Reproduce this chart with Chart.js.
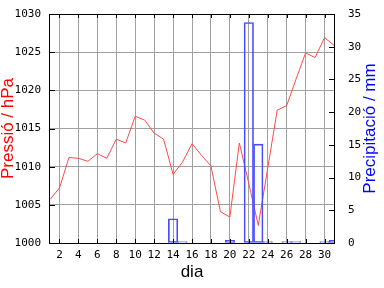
<!DOCTYPE html>
<html>
<head>
<meta charset="utf-8">
<script src="https://cdn.jsdelivr.net/npm/chart.js@4/dist/chart.umd.min.js"></script>
<style>
html,body{margin:0;padding:0;background:#fff;}
#wrap{width:384px;height:288px;}
</style>
</head>
<body>
<div id="wrap"><canvas id="c" width="384" height="288"></canvas></div>
<script>
const days = [1,2,3,4,5,6,7,8,9,10,11,12,13,14,15,16,17,18,19,20,21,22,23,24,25,26,27,28,29,30,31];
const pressure = [1005.7,1007.2,1011.2,1011.1,1010.7,1011.7,1011.1,1013.6,1013.1,1016.6,
  1016.1,1014.4,1013.6,1009.0,1010.6,1013.0,1011.5,1010.1,1004.1,1003.4,
  1013.1,1007.8,1002.3,1009.8,1017.4,1018.0,1021.5,1024.9,1024.3,1026.9,1025.9];
const precip = [null,null,null,null,null,null,null,null,null,null,
  null,null,null,3.7,0.2,null,null,null,null,0.4,
  null,33.7,15.1,0.2,null,0.2,0.2,null,null,0.2,0.4];
const xTicks = [2,4,6,8,10,12,14,16,18,20,22,24,26,28,30];
const pTicks = [1000,1005,1010,1015,1020,1025,1030];
const rTicks = [0,5,10,15,20,25,30,35];

const monoFont = {family:'"DejaVu Sans Mono", monospace', size:11};
const gridCol = '#a0a0a0';
const plain = v => String(v);

const framePlugin = {
  id:'frame',
  afterDatasetsDraw(chart){
    const ctx = chart.ctx, ca = chart.chartArea;
    const xs = chart.scales.x, ys = chart.scales.y, y1 = chart.scales.y1;
    ctx.save();
    ctx.strokeStyle = '#000';
    ctx.lineWidth = 1;
    ctx.beginPath();
    xs.ticks.forEach(t => {
      const px = Math.round(xs.getPixelForValue(t.value)) + 0.5;
      ctx.moveTo(px, ca.bottom); ctx.lineTo(px, ca.bottom - 4);
      ctx.moveTo(px, ca.top); ctx.lineTo(px, ca.top + 4);
    });
    ys.ticks.forEach(t => {
      const py = Math.round(ys.getPixelForValue(t.value)) + 0.5;
      ctx.moveTo(ca.left, py); ctx.lineTo(ca.left + 5, py);
    });
    y1.ticks.forEach(t => {
      const py = Math.round(y1.getPixelForValue(t.value)) + 0.5;
      ctx.moveTo(ca.right, py); ctx.lineTo(ca.right - 5, py);
    });
    ctx.stroke();
    ctx.strokeRect(Math.round(ca.left) - 0.5, Math.round(ca.top) + 0.5,
      Math.round(ca.right - ca.left) + 1, Math.round(ca.bottom - ca.top));
    // right axis title, reading bottom-to-top
    ctx.fillStyle = '#0000ff';
    ctx.font = '17px "Liberation Sans", Arial, sans-serif';
    ctx.textAlign = 'center';
    ctx.textBaseline = 'middle';
    ctx.translate(y1.right - 14, (ca.top + ca.bottom) / 2);
    ctx.rotate(-Math.PI / 2);
    ctx.fillText('Precipitació / mm', 0, 0);
    ctx.restore();
  }
};

function fitV(s){ s.width = 50; s.paddingTop = 0; s.paddingBottom = 0; }

new Chart(document.getElementById('c'), {
  type: 'bar',
  data: {
    datasets: [
      {
        type: 'line',
        label: 'Pressió',
        data: days.map((d, i) => ({x: d, y: pressure[i]})),
        borderColor: '#ff4a4a',
        borderWidth: 1,
        pointRadius: 0,
        tension: 0,
        fill: false,
        yAxisID: 'y',
        order: 2
      },
      {
        type: 'bar',
        label: 'Precipitació',
        data: days.map((d, i) => ({x: d, y: precip[i]})),
        backgroundColor: 'rgba(0,0,0,0)',
        borderColor: '#4a4aff',
        borderWidth: 1,
        borderSkipped: false,
        barPercentage: 1,
        categoryPercentage: 1,
        yAxisID: 'y1',
        order: 1
      }
    ]
  },
  options: {
    responsive: false,
    animation: false,
    events: [],
    layout: {padding: {top: 14, left: 0, right: 0, bottom: 0}},
    plugins: {legend: {display: false}, tooltip: {enabled: false}},
    scales: {
      x: {
        type: 'linear',
        offset: false,
        min: 1, max: 31,
        afterBuildTicks(axis){ axis.ticks = xTicks.map(v => ({value: v})); },
        afterFit(s){ s.height = 45; s.paddingLeft = 0; s.paddingRight = 0; },
        grid: {color: gridCol, drawTicks: false, lineWidth: 1, offset: false},
        border: {display: false},
        ticks: {font: monoFont, color: '#000', padding: 6, maxRotation: 0, autoSkip: false, callback: plain},
        title: {display: true, text: 'dia', color: '#000',
          font: {family: '"Liberation Sans", Arial, sans-serif', size: 17, lineHeight: 1},
          padding: {top: 0, bottom: 7}}
      },
      y: {
        position: 'left',
        min: 1000, max: 1030,
        afterBuildTicks(axis){ axis.ticks = pTicks.map(v => ({value: v})); },
        afterFit: fitV,
        grid: {color: gridCol, drawTicks: false, lineWidth: 1},
        border: {display: false},
        ticks: {font: monoFont, color: '#000', padding: 9, callback: plain},
        title: {display: true, text: 'Pressió / hPa', color: '#ff0000',
          font: {family: '"Liberation Sans", Arial, sans-serif', size: 17, lineHeight: 1},
          padding: {top: 0, bottom: 0}}
      },
      y1: {
        position: 'right',
        min: 0, max: 35,
        afterBuildTicks(axis){ axis.ticks = rTicks.map(v => ({value: v})); },
        afterFit: fitV,
        grid: {drawOnChartArea: false, drawTicks: false},
        border: {display: false},
        ticks: {font: monoFont, color: '#000', padding: 14, callback: plain}
      }
    }
  },
  plugins: [framePlugin]
});
</script>
</body>
</html>
